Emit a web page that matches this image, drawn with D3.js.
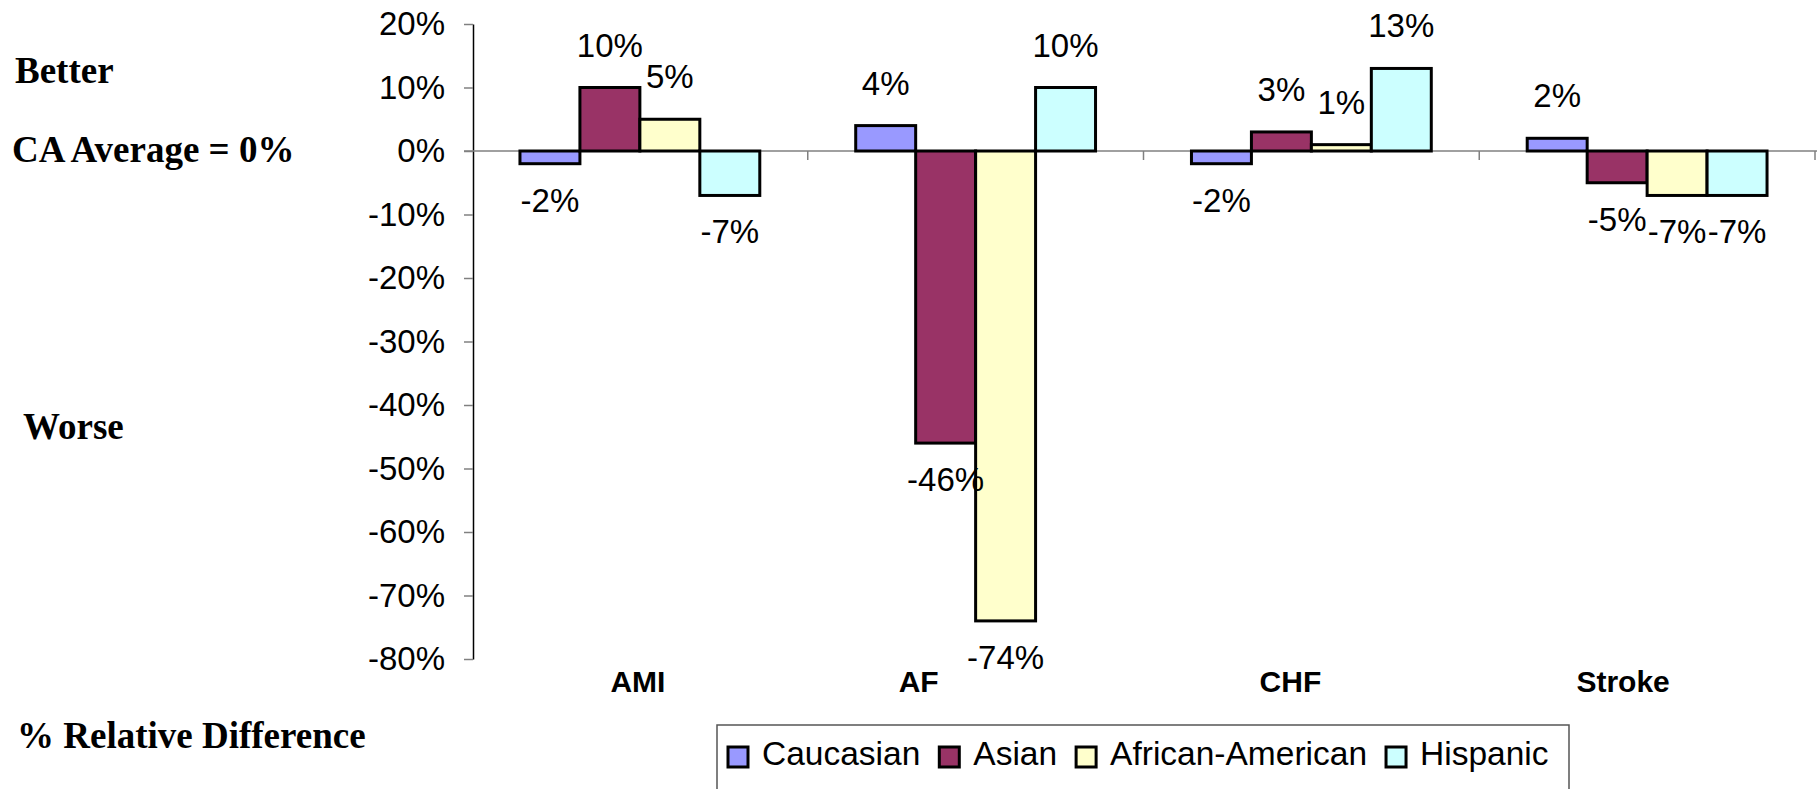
<!DOCTYPE html>
<html>
<head>
<meta charset="utf-8">
<script src="https://cdn.jsdelivr.net/npm/d3@7"></script>
<style>
  body { margin: 0; background: #fff; overflow: hidden; }
  svg { display: block; }
</style>
</head>
<body>
<div id="chart"></div>
<script>
// categories and series
var categories = ["AMI", "AF", "CHF", "Stroke"];
var seriesNames = ["Caucasian", "Asian", "African-American", "Hispanic"];
var seriesColors = ["#9999FF", "#993366", "#FFFFCC", "#CCFFFF"];

// values in percent, one array per series (AMI, AF, CHF, Stroke)
var caucasian = [-2, 4, -2, 2];
var asian = [10, -46, 3, -5];
var africanAmerican = [5, -74, 1, -7];
var hispanic = [-7, 10, 13, -7];

var yTicks = [20, 10, 0, -10, -20, -30, -40, -50, -60, -70, -80];

// category labels are nudged left like in the original slide
var labelShift = [-2, -57, -21, -24];

var seriesValues = [caucasian, asian, africanAmerican, hispanic];

var width = 1818, height = 789;

var svg = d3.select("#chart")
    .append("svg")
    .attr("width", width)
    .attr("height", height);

var x0 = d3.scaleBand()
    .domain(categories)
    .range([472, 1815])
    .padding(0);

var x1 = d3.scaleBand()
    .domain(seriesNames)
    .range([0, x0.bandwidth()])
    .paddingInner(0)
    .paddingOuter(0.8);

var y = d3.scaleLinear()
    .domain([-80, 20])
    .range([659, 24]);

// y axis
var yAxis = d3.axisLeft(y)
    .tickValues(yTicks)
    .tickFormat(function (d) { return d + "%"; })
    .tickSize(9)
    .tickSizeOuter(0)
    .tickPadding(19);

var gy = svg.append("g")
    .attr("transform", "translate(473,0)")
    .call(yAxis);
gy.select(".domain").attr("stroke", "#000").attr("stroke-width", 1.5);
gy.selectAll(".tick line").attr("stroke", "#808080").attr("stroke-width", 1.5);
gy.selectAll(".tick text")
    .attr("fill", "#000")
    .style("font-family", "'Liberation Sans', Arial, sans-serif")
    .style("font-size", "33px");

// zero line with category ticks
svg.append("line")
    .attr("x1", 464).attr("x2", 1817)
    .attr("y1", y(0)).attr("y2", y(0))
    .attr("stroke", "#808080")
    .attr("stroke-width", 1.5);

svg.selectAll(".cattick")
    .data(categories)
    .enter().append("line")
    .attr("class", "cattick")
    .attr("x1", function (d) { return x0(d) + x0.bandwidth(); })
    .attr("x2", function (d) { return x0(d) + x0.bandwidth(); })
    .attr("y1", y(0))
    .attr("y2", y(0) + 9)
    .attr("stroke", "#808080")
    .attr("stroke-width", 1.5);

// build rows for the bars
var rows = categories.map(function (c, i) {
    return seriesNames.map(function (s, j) {
        return { cat: c, series: s, value: seriesValues[j][i], color: seriesColors[j] };
    });
});

var group = svg.selectAll(".group")
    .data(rows)
    .enter().append("g")
    .attr("class", "group")
    .attr("transform", function (d, i) { return "translate(" + x0(categories[i]) + ",0)"; });

group.selectAll("rect")
    .data(function (d) { return d; })
    .enter().append("rect")
    .attr("x", function (d) { return x1(d.series); })
    .attr("y", function (d) { return y(Math.max(0, d.value)); })
    .attr("width", x1.bandwidth())
    .attr("height", function (d) { return Math.abs(y(d.value) - y(0)); })
    .attr("fill", function (d) { return d.color; })
    .attr("stroke", "#000")
    .attr("stroke-width", 3);

// data labels, outside end
group.selectAll(".val")
    .data(function (d) { return d; })
    .enter().append("text")
    .attr("class", "val")
    .attr("x", function (d) { return x1(d.series) + x1.bandwidth() / 2; })
    .attr("y", function (d) { return d.value >= 0 ? y(d.value) - 31 : y(d.value) + 48; })
    .attr("text-anchor", "middle")
    .style("font-family", "'Liberation Sans', Arial, sans-serif")
    .style("font-size", "33px")
    .text(function (d) { return d.value + "%"; });

// category labels at the bottom
svg.selectAll(".cat")
    .data(categories)
    .enter().append("text")
    .attr("class", "cat")
    .attr("x", function (d, i) { return x0(d) + x0.bandwidth() / 2 + labelShift[i]; })
    .attr("y", 692)
    .attr("text-anchor", "middle")
    .style("font-family", "'Liberation Sans', Arial, sans-serif")
    .style("font-weight", "bold")
    .style("font-size", "30px")
    .text(function (d) { return d; });

// side notes
var notes = [
    { text: "Better", x: 15, y: 83 },
    { text: "CA Average = 0%", x: 12, y: 162 },
    { text: "Worse", x: 23, y: 439 },
    { text: "% Relative Difference", x: 17, y: 748 }
];
svg.selectAll(".note")
    .data(notes)
    .enter().append("text")
    .attr("class", "note")
    .attr("x", function (d) { return d.x; })
    .attr("y", function (d) { return d.y; })
    .style("font-family", "'Liberation Serif', 'Times New Roman', serif")
    .style("font-weight", "bold")
    .style("font-size", "37px")
    .text(function (d) { return d.text; });

// legend
var legend = svg.append("g");
legend.append("rect")
    .attr("x", 717).attr("y", 725)
    .attr("width", 852).attr("height", 90)
    .attr("fill", "#fff")
    .attr("stroke", "#555")
    .attr("stroke-width", 1.5);

var lx = 728;
seriesNames.forEach(function (s, j) {
    legend.append("rect")
        .attr("x", lx).attr("y", 747)
        .attr("width", 20).attr("height", 20)
        .attr("fill", seriesColors[j])
        .attr("stroke", "#000")
        .attr("stroke-width", 3);
    var t = legend.append("text")
        .attr("x", lx + 34)
        .attr("y", 765)
        .style("font-family", "'Liberation Sans', Arial, sans-serif")
        .style("font-size", "33.5px")
        .text(s);
    lx = lx + 34 + t.node().getComputedTextLength() + 19;
});
</script>
</body>
</html>
